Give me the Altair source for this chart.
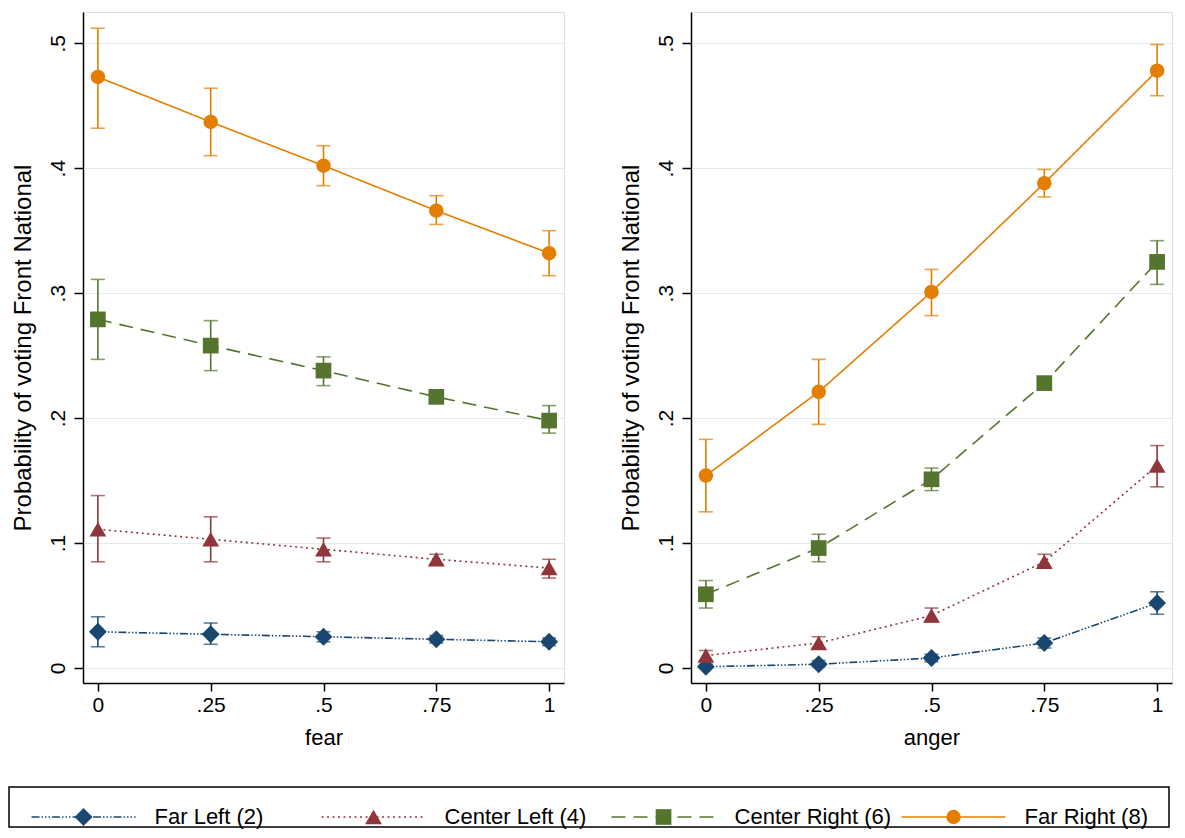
import altair as alt
import pandas as pd

# ---------------- data ----------------
x_levels = [0, 0.25, 0.5, 0.75, 1]
series = ["Far Left (2)", "Center Left (4)", "Center Right (6)", "Far Right (8)"]

# fear panel: point estimate, lower CI, upper CI
fear_far_left = [0.029, 0.027, 0.025, 0.023, 0.021]
fear_far_left_lo = [0.017, 0.019, 0.021, 0.020, 0.018]
fear_far_left_hi = [0.041, 0.036, 0.029, 0.026, 0.024]
fear_center_left = [0.111, 0.103, 0.095, 0.087, 0.080]
fear_center_left_lo = [0.085, 0.085, 0.085, 0.083, 0.072]
fear_center_left_hi = [0.138, 0.121, 0.104, 0.091, 0.087]
fear_center_right = [0.279, 0.258, 0.238, 0.217, 0.198]
fear_center_right_lo = [0.247, 0.238, 0.226, 0.212, 0.188]
fear_center_right_hi = [0.311, 0.278, 0.249, 0.222, 0.210]
fear_far_right = [0.473, 0.437, 0.402, 0.366, 0.332]
fear_far_right_lo = [0.432, 0.410, 0.386, 0.355, 0.314]
fear_far_right_hi = [0.512, 0.464, 0.418, 0.378, 0.350]

# anger panel
anger_far_left = [0.001, 0.003, 0.008, 0.020, 0.052]
anger_far_left_lo = [0.000, 0.001, 0.005, 0.016, 0.043]
anger_far_left_hi = [0.003, 0.006, 0.011, 0.024, 0.061]
anger_center_left = [0.010, 0.020, 0.042, 0.085, 0.162]
anger_center_left_lo = [0.006, 0.016, 0.037, 0.080, 0.145]
anger_center_left_hi = [0.014, 0.025, 0.048, 0.091, 0.178]
anger_center_right = [0.059, 0.096, 0.151, 0.228, 0.325]
anger_center_right_lo = [0.048, 0.085, 0.142, 0.223, 0.307]
anger_center_right_hi = [0.070, 0.107, 0.160, 0.233, 0.342]
anger_far_right = [0.154, 0.221, 0.301, 0.388, 0.478]
anger_far_right_lo = [0.125, 0.195, 0.282, 0.377, 0.458]
anger_far_right_hi = [0.183, 0.247, 0.319, 0.399, 0.499]

y_ticks = [0, 0.1, 0.2, 0.3, 0.4, 0.5]

# ---------------- styles ----------------
colors = ["#1a476f", "#90353b", "#55752f", "#e37e00"]
shapes = ["diamond", "triangle-up", "square", "circle"]
marker_sizes = [320, 210, 240, 200]
dashes = [[8, 2, 1.5, 2, 1.5, 2, 1.5, 2], [2, 3.5], [14, 8], [1, 0]]
FONT = "Liberation Sans"


def build_df(groups):
    rows = []
    for name, (est, lo, hi) in zip(series, groups):
        for x, e, l, h in zip(x_levels, est, lo, hi):
            rows.append({"x": x, "series": name, "est": e, "lo": l, "hi": h})
    return pd.DataFrame(rows)


fear_df = build_df([
    (fear_far_left, fear_far_left_lo, fear_far_left_hi),
    (fear_center_left, fear_center_left_lo, fear_center_left_hi),
    (fear_center_right, fear_center_right_lo, fear_center_right_hi),
    (fear_far_right, fear_far_right_lo, fear_far_right_hi),
])
anger_df = build_df([
    (anger_far_left, anger_far_left_lo, anger_far_left_hi),
    (anger_center_left, anger_center_left_lo, anger_center_left_hi),
    (anger_center_right, anger_center_right_lo, anger_center_right_hi),
    (anger_far_right, anger_far_right_lo, anger_far_right_hi),
])

label_expr = ("datum.value == 0 ? '0' : datum.value == 1 ? '1' : "
              "substring(format(datum.value, '~g'), 1)")

color_enc = alt.Color("series:N", scale=alt.Scale(domain=series, range=colors), legend=None)
dash_enc = alt.StrokeDash("series:N", scale=alt.Scale(domain=series, range=dashes), legend=None)
shape_enc = alt.Shape("series:N", scale=alt.Scale(domain=series, range=shapes), legend=None)
size_enc = alt.Size("series:N", scale=alt.Scale(domain=series, range=marker_sizes), legend=None)

PW, PH = 481, 671


def panel(df, xtitle):
    x_enc = alt.X(
        "x:Q",
        title=xtitle,
        scale=alt.Scale(domain=[-0.033, 1.033], nice=False, zero=False),
        axis=alt.Axis(values=x_levels, labelExpr=label_expr, grid=False,
                      tickSize=8, tickWidth=1.5, tickColor="black",
                      domainColor="black", domainWidth=1.5,
                      labelFontSize=21, labelPadding=3, labelColor="black",
                      labelFont=FONT, titleFont=FONT, titleFontSize=22,
                      titleFontWeight="normal", titleColor="black", titlePadding=12),
    )
    y_axis = alt.Axis(values=y_ticks, labelExpr=label_expr, labelAngle=-90,
                      labelAlign="center", labelBaseline="bottom",
                      grid=True, gridColor="#e3ebee", gridWidth=1,
                      tickSize=9, tickWidth=1.5, tickColor="black",
                      domainColor="black", domainWidth=1.5,
                      labelFontSize=21, labelPadding=6, labelColor="black",
                      labelFont=FONT, titleFont=FONT, titleFontSize=24,
                      titleFontWeight="normal", titleColor="black", titlePadding=12)
    y_scale = alt.Scale(domain=[-0.012, 0.525], nice=False, zero=False)
    ytitle = "Probability of voting Front National"

    base = alt.Chart(df)
    lines = base.mark_line(strokeWidth=1.6).encode(
        x=x_enc,
        y=alt.Y("est:Q", title=ytitle, scale=y_scale, axis=y_axis),
        color=color_enc, strokeDash=dash_enc,
        order="x:Q",
    )
    bars = base.mark_errorbar(ticks=True, size=14, thickness=1.6).encode(
        x=x_enc,
        y=alt.Y("lo:Q", title=ytitle, scale=y_scale, axis=y_axis),
        y2="hi:Q",
        color=color_enc,
    )
    points = base.mark_point(filled=True, opacity=1).encode(
        x=x_enc,
        y=alt.Y("est:Q", title=ytitle, scale=y_scale, axis=y_axis),
        color=color_enc, shape=shape_enc, size=size_enc,
    )
    return alt.layer(lines, bars, points).properties(width=PW, height=PH)


left = panel(fear_df, "fear")
right = panel(anger_df, "anger")

# ---------------- legend row ----------------
leg_df = pd.DataFrame({"series": series, "row": ["legend"] * len(series)})
BAND = 290
BPOS = 0.257
LEG_DY = 10
lx = alt.X("series:N", sort=series, bandPosition=BPOS,
           scale=alt.Scale(domain=series, paddingInner=0, paddingOuter=0), axis=None)
ly = alt.Y("row:N", axis=None)
leg_base = alt.Chart(leg_df)
leg_rule = leg_base.mark_rule(strokeWidth=1.6, xOffset=-52, x2Offset=52,
                              yOffset=LEG_DY, y2Offset=LEG_DY).encode(
    x=lx, x2=alt.X2("series", bandPosition=BPOS), y=ly,
    color=color_enc, strokeDash=dash_enc,
)
leg_pt = leg_base.mark_point(filled=True, opacity=1, yOffset=LEG_DY).encode(
    x=lx, y=ly, color=color_enc, shape=shape_enc, size=size_enc,
)
leg_txt = leg_base.mark_text(align="left", baseline="middle", dx=71, dy=LEG_DY, fontSize=22,
                             font=FONT, color="black").encode(
    x=lx, y=ly, text="series:N",
)
legend = alt.layer(leg_rule, leg_pt, leg_txt).properties(
    width=BAND * 4, height=40,
    view=alt.ViewBackground(stroke="black", strokeWidth=1.5),
)

# invisible 1px spacer (empty text, no extent) so the top row's origin sits at its left edge
spacer = alt.Chart(leg_df).mark_text(text="", size=1, opacity=0).properties(width=1, height=10)

top = alt.hconcat(spacer, alt.hconcat(left, right, spacing=53), spacing=0)

chart = alt.vconcat(
    top, legend, spacing=37,
).properties(
    padding={"left": 0, "top": 3, "right": 0, "bottom": 0},
    background="white",
).configure_view(stroke=None).configure(font=FONT)

chart.save("out.html", embed_options={"renderer": "svg", "actions": False})
